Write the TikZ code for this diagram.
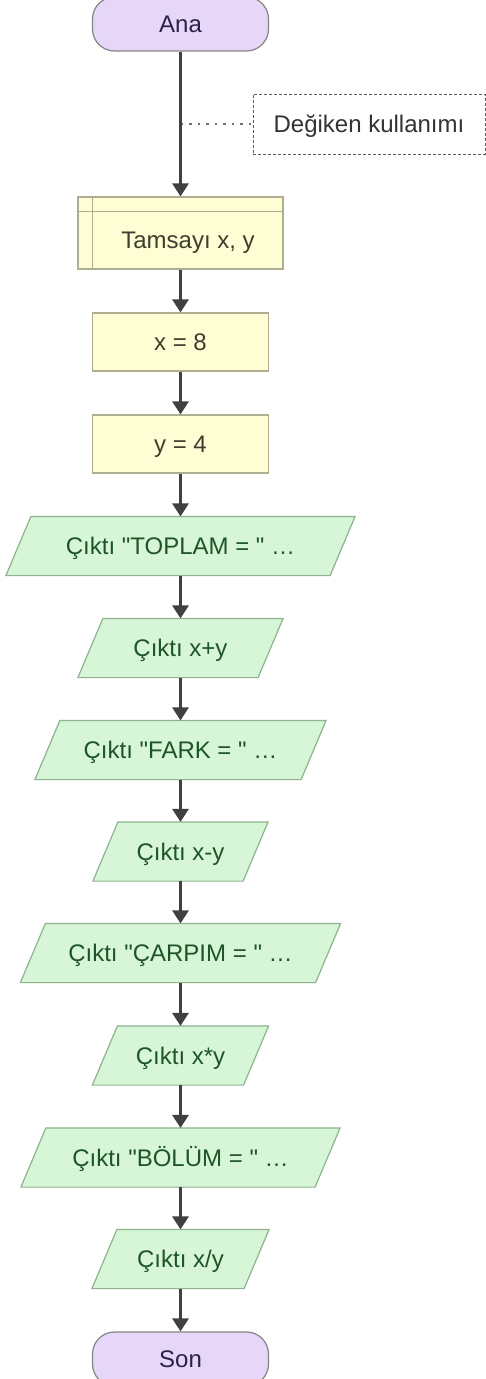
\documentclass[tikz,border=0pt]{standalone}
\usepackage{fontspec}
\newfontfamily\uifont{Liberation Sans}
\usetikzlibrary{arrows.meta,backgrounds}

\definecolor{termfill}{HTML}{E6D7F8}
\definecolor{termline}{HTML}{858585}
\definecolor{termtext}{HTML}{2E2048}
\definecolor{procfill}{HTML}{FEFDD3}
\definecolor{procline}{HTML}{B0AE90}
\definecolor{proctext}{HTML}{3E3E2E}
\definecolor{iofill}{HTML}{D7F5D7}
\definecolor{ioline}{HTML}{8DB48D}
\definecolor{iotext}{HTML}{1E5528}
\definecolor{flow}{HTML}{404040}
\definecolor{notegray}{HTML}{5A5A5A}
\definecolor{notetext}{HTML}{333333}
\definecolor{dotgray}{HTML}{6E6E6E}

\tikzset{
  base/.style={font=\uifont\fontsize{24}{28}\selectfont, text height=17pt, text depth=0pt,
    inner sep=0pt, line width=1.2pt},
  term/.style={base, rectangle, rounded corners=22pt, draw=termline, fill=termfill,
    text=termtext, minimum width=176pt, minimum height=54pt},
  proc/.style={base, rectangle, draw=procline, fill=procfill, text=proctext,
    minimum width=176pt, minimum height=58pt},
  decl/.style={proc, minimum width=205pt, minimum height=72pt},
  io/.style={base, rectangle, text=iotext, minimum height=58pt},
  ioshape/.style={draw=ioline, fill=iofill, line width=1.2pt, line join=miter},
  flowline/.style={draw=flow, line width=3pt, -{Triangle[length=13pt,width=16pt]}},
  note/.style={base, rectangle, draw=notegray, line width=1pt, dash pattern=on 3pt off 2pt,
    text=notetext, minimum width=232pt, minimum height=60pt},
  noteline/.style={draw=dotgray, line width=2pt, dash pattern=on 2.5pt off 6pt},
}

% parallelogram (slant 25pt) around an output node
\newcommand\drawio[1]{%
  \draw[ioshape] ([xshift=12.5pt]#1.north west) -- ([xshift=12.5pt]#1.north east)
    -- ([xshift=-12.5pt]#1.south east) -- ([xshift=-12.5pt]#1.south west) -- cycle;}

\begin{document}
\begin{tikzpicture}[x=1pt,y=-1pt]
\useasboundingbox (0,0) rectangle (486,1379);

% flow nodes
\node[term] (ana) at (180.5,24) {Ana};
\node[note] (note) at (369,124) {Değiken kullanımı};
\node[decl] (decl) at (180.5,233) {\hspace*{15pt}\raisebox{-7pt}{Tamsayı x, y}};
\node[proc] (setx) at (180.5,342) {x = 8};
\node[proc] (sety) at (180.5,444) {y = 4};
\node[io, minimum width=323pt] (o1) at (180.5,546)    {Çıktı "TOPLAM = " …};
\node[io, minimum width=179pt] (o2) at (180.5,648)    {Çıktı x+y};
\node[io, minimum width=265pt] (o3) at (180.5,750)    {Çıktı "FARK = " …};
\node[io, minimum width=149pt] (o4) at (180.5,851.5)  {Çıktı x-y};
\node[io, minimum width=294pt] (o5) at (180.5,953)    {Çıktı "ÇARPIM = " …};
\node[io, minimum width=150pt] (o6) at (180.5,1055.5) {Çıktı x*y};
\node[io, minimum width=293pt] (o7) at (180.5,1157.5) {Çıktı "BÖLÜM = " …};
\node[io, minimum width=151pt] (o8) at (180.5,1259)   {Çıktı x/y};
\node[term] (son) at (180.5,1359) {Son};

% inner frame lines of the declaration block
\draw[procline, line width=1.2pt] ([xshift=15pt]decl.north west) -- ([xshift=15pt]decl.south west);
\draw[procline, line width=1.2pt] ([yshift=-15pt]decl.north west) -- ([yshift=-15pt]decl.north east);

% background and output shapes
\begin{scope}[on background layer]
  \fill[white] (0,0) rectangle (486,1379);
  \foreach \n in {o1,o2,o3,o4,o5,o6,o7,o8} {\drawio{\n}}
\end{scope}

% comment connector
\draw[noteline] (ana.south |- note.west) -- (note.west);

% flow connectors
\draw[flowline] (ana) -- (decl);
\draw[flowline] (decl) -- (setx);
\draw[flowline] (setx) -- (sety);
\draw[flowline] (sety) -- (o1);
\draw[flowline] (o1) -- (o2);
\draw[flowline] (o2) -- (o3);
\draw[flowline] (o3) -- (o4);
\draw[flowline] (o4) -- (o5);
\draw[flowline] (o5) -- (o6);
\draw[flowline] (o6) -- (o7);
\draw[flowline] (o7) -- (o8);
\draw[flowline] (o8) -- (son);
\end{tikzpicture}
\end{document}
